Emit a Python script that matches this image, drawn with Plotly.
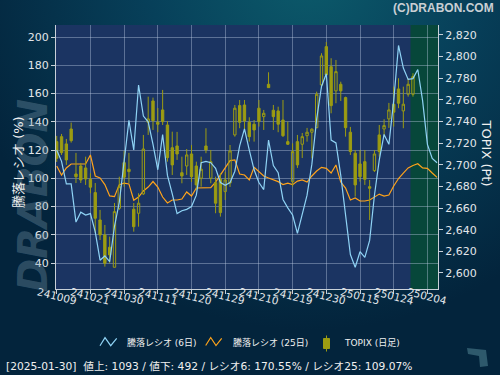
import base64
import plotly.graph_objects as go

# ---------------- data ----------------
dates = ["241009","241010","241011","241015","241016","241017","241018","241021","241022","241023",
         "241024","241025","241028","241029","241030","241031","241101","241105","241106","241107",
         "241108","241111","241112","241113","241114","241115","241118","241119","241120","241121",
         "241122","241125","241126","241127","241128","241129","241202","241203","241204","241205",
         "241206","241209","241210","241211","241212","241213","241216","241217","241218","241219",
         "241220","241223","241224","241225","241226","241227","241230","250106","250107","250108",
         "250109","250110","250114","250115","250116","250117","250120","250121","250122","250123",
         "250124","250127","250128","250129","250130","250131","250203","250204","250205","250206"]

tick_labels = ["241009","241021","241030","241111","241120","241129","241210","241219",
               "241230","250115","250124","250204"]

ratio6 = [120, 112, 96, 96, 69, 76, 74, 75, 62, 42,
          45, 41, 66, 83, 112, 141, 120, 166, 144, 140,
          124, 106, 131, 102, 89, 75, 77, 78, 80, 88,
          111, 112, 111, 107, 97, 95, 97, 105, 123, 135,
          120, 106, 97, 92, 127, 109, 104, 85, 79, 74,
          61, 74, 88, 110, 142, 165, 174, 127, 125, 102,
          76, 46, 37, 48, 44, 56, 88, 113, 131, 124,
          155, 194, 178, 170, 170.55, 177, 155, 124, 114, 111]

ratio25 = [108.7, 102.3, 107.3, 110.1, 110.1, 110.1, 110.1, 116.5, 101.6, 100.2,
           95.5, 87.5, 87, 95.5, 96.6, 96, 84.4, 86.7, 91, 93.8,
           97.7, 93.8, 86.7, 82.5, 84.6, 84.6, 85.3, 90.3, 87.4, 93.1,
           93.1, 93.1, 93.3, 97.3, 102.3, 107.3, 112.5, 113, 103, 102.3,
           98.8, 107.7, 104.4, 101.6, 100.2, 98.8, 97.6, 95.5, 96.6, 95.5,
           98, 98.8, 97.3, 101.6, 105.1, 107.7, 107, 103.7, 109.4, 97.3,
           93.1, 84.6, 86, 83.9, 83.9, 84.6, 86.7, 88.8, 87.4, 88.1,
           94.5, 99.8, 103.7, 107.3, 109.07, 110.3, 107.3, 107, 103.7, 100.6]

topix_open = [2721.4, 2726.0, 2719.3, 2733.1, 2691.5, 2698.9, 2697.1, 2686.6, 2674.3, 2649.0,
              2635.2, 2623.8, 2605.3, 2659.8, 2702.0, 2695.9, 2658.9, 2655.2, 2673.1, 2739.3,
              2759.0, 2739.3, 2750.7, 2736.8, 2715.8, 2717.4, 2692.7, 2698.9, 2710.0, 2698.9,
              2687.6, 2717.4, 2687.6, 2683.5, 2686.6, 2675.2, 2683.2, 2727.6, 2754.7, 2755.3,
              2739.3, 2737.5, 2752.3, 2744.5, 2774.4, 2750.4, 2749.8, 2741.4, 2721.4, 2684.4,
              2721.4, 2719.0, 2726.9, 2730.1, 2734.3, 2773.8, 2809.2, 2790.7, 2768.3, 2774.4,
              2762.1, 2730.1, 2710.7, 2700.8, 2702.9, 2679.8, 2694.6, 2727.6, 2733.1, 2742.4,
              2756.0, 2770.1, 2749.8, 2765.2, 2765.2]
topix_high = [2726.7, 2728.5, 2723.9, 2739.0, 2711.0, 2701.7, 2707.5, 2692.2, 2683.2, 2658.3,
              2644.4, 2633.6, 2664.7, 2689.0, 2712.8, 2711.0, 2664.7, 2673.7, 2727.6, 2763.0,
              2762.1, 2752.5, 2769.2, 2740.5, 2730.6, 2730.4, 2707.5, 2714.6, 2718.3, 2702.9,
              2707.5, 2733.8, 2713.7, 2689.0, 2692.2, 2693.4, 2718.3, 2755.3, 2759.9, 2759.9,
              2743.9, 2741.4, 2759.9, 2750.7, 2785.5, 2755.3, 2753.7, 2759.9, 2739.9, 2719.9,
              2727.6, 2729.4, 2734.1, 2733.8, 2767.6, 2803.1, 2813.5, 2798.5, 2796.9, 2776.8,
              2763.0, 2735.0, 2713.7, 2713.7, 2713.7, 2686.0, 2713.7, 2736.8, 2742.1, 2757.2,
              2772.2, 2780.0, 2772.2, 2780.0, 2784.6]
topix_low = [2702.6, 2709.1, 2699.9, 2720.5, 2683.2, 2683.2, 2681.4, 2673.7, 2637.0, 2630.5,
             2605.9, 2609.0, 2605.3, 2658.3, 2679.8, 2683.2, 2638.2, 2642.8, 2672.1, 2727.6,
             2732.2, 2730.1, 2736.8, 2702.9, 2690.6, 2704.5, 2682.9, 2690.6, 2684.1, 2676.8,
             2679.8, 2710.7, 2682.9, 2655.2, 2652.1, 2667.5, 2679.5, 2726.0, 2733.8, 2732.2,
             2721.4, 2721.4, 2735.3, 2732.2, 2771.3, 2732.2, 2730.1, 2725.7, 2718.3, 2679.8,
             2697.1, 2706.3, 2721.4, 2706.0, 2733.8, 2770.7, 2778.4, 2747.6, 2756.9, 2759.0,
             2726.0, 2709.1, 2670.6, 2684.4, 2681.4, 2649.0, 2693.4, 2707.5, 2726.0, 2734.1,
             2735.3, 2752.3, 2733.8, 2763.0, 2763.0]
topix_close = [2706.0, 2711.2, 2704.5, 2722.3, 2689.0, 2686.0, 2686.9, 2679.3, 2650.6, 2635.2,
               2609.0, 2616.7, 2656.7, 2679.8, 2688.5, 2693.7, 2642.8, 2664.5, 2714.6, 2742.4,
               2740.8, 2737.5, 2739.9, 2706.6, 2699.9, 2710.0, 2689.7, 2709.1, 2689.0, 2681.4,
               2695.9, 2713.7, 2702.9, 2664.5, 2655.8, 2686.0, 2712.8, 2752.3, 2739.3, 2740.5,
               2726.0, 2732.2, 2739.9, 2747.6, 2771.3, 2744.5, 2737.5, 2726.9, 2719.0, 2712.2,
               2699.9, 2726.0, 2730.1, 2732.9, 2765.2, 2800.6, 2783.0, 2754.7, 2786.1, 2768.3,
               2734.3, 2712.2, 2681.4, 2689.0, 2686.6, 2678.3, 2710.0, 2712.2, 2736.2, 2750.7,
               2748.6, 2756.9, 2756.0, 2774.4, 2781.5]

ratio_ticks = [40, 60, 80, 100, 120, 140, 160, 180, 200]
topix_ticks = [2600, 2620, 2640, 2660, 2680, 2700, 2720, 2740, 2760, 2780, 2800, 2820]
highlight_from = "250130"
info_text = "[2025-01-30]  値上: 1093 / 値下: 492 / レシオ6: 170.55% / レシオ25: 109.07%"

# ---------------- layout helpers ----------------
W, H = 500, 375
ML, MR, MT, MB = 56, 62, 25, 86
PW, PH = W - ML - MR, H - MT - MB


def px(x):
    return (x - ML) / PW


def py(y):
    return (H - MB - y) / PH


FONT = "DejaVu Sans, Noto Sans CJK JP, sans-serif"
LBL = "#e2e6ea"
AXC = "#c8d0d8"
GRID = "rgba(190,205,230,0.4)"
OLIVE = "#9c9c12"
BLUE = "#8fd3f5"
ORANGE = "#ffa31a"

idx = list(range(len(dates)))
cidx = idx[:len(topix_close)]
tick_pos = [dates.index(t) for t in tick_labels]
hl_pos = dates.index(highlight_from) - 0.5

svg = f'''<svg xmlns="http://www.w3.org/2000/svg" width="{W}" height="{H}" viewBox="0 0 {W} {H}">
<defs><radialGradient id="g" gradientUnits="userSpaceOnUse" cx="310" cy="-30" r="360">
<stop offset="0" stop-color="#0c5b6b"/><stop offset="0.45" stop-color="#07405a"/>
<stop offset="1" stop-color="#03243c"/></radialGradient></defs>
<rect width="{W}" height="{H}" fill="url(#g)"/>
<path d="M467,348 L486,350 L488,366 L480,367 L479,356 L468,354 Z" fill="#2e596c"/>
</svg>'''
bg_src = "data:image/svg+xml;base64," + base64.b64encode(svg.encode()).decode()

fig = go.Figure()
fig.add_trace(go.Scatter(x=idx, y=ratio25, yaxis="y", mode="lines",
                         line=dict(color=ORANGE, width=1.2), name="騰落レシオ (25日)",
                         showlegend=False, hoverinfo="skip"))
fig.add_trace(go.Candlestick(
    x=cidx, open=topix_open, high=topix_high, low=topix_low, close=topix_close,
    yaxis="y2", name="TOPIX (日足)", whiskerwidth=0,
    increasing=dict(line=dict(color=OLIVE, width=1), fillcolor="rgba(0,0,0,0)"),
    decreasing=dict(line=dict(color=OLIVE, width=1), fillcolor=OLIVE),
    showlegend=False, hoverinfo="skip"))
fig.add_trace(go.Scatter(x=idx, y=ratio6, yaxis="y3", mode="lines",
                         line=dict(color=BLUE, width=1.2), name="騰落レシオ (6日)",
                         showlegend=False, hoverinfo="skip"))

yr = [21.6, 208.5]
fig.update_layout(
    width=W, height=H, autosize=False,
    margin=dict(l=ML, r=MR, t=MT, b=MB, pad=0, autoexpand=False),
    paper_bgcolor="#03243c", plot_bgcolor="rgba(0,0,0,0)",
    font=dict(family=FONT, color=LBL, size=11),
    showlegend=False,
    xaxis=dict(range=[-0.15, 79.2], tickvals=tick_pos, showticklabels=False,
               ticks="outside", ticklen=4, tickcolor=AXC, showgrid=True, gridcolor=GRID,
               gridwidth=1, showline=True, linecolor=AXC, linewidth=1, zeroline=False,
               rangeslider=dict(visible=False), fixedrange=True),
    yaxis=dict(range=yr, tickvals=ratio_ticks, ticks="outside", ticklen=4, tickcolor=AXC,
               tickfont=dict(family=FONT, size=11, color=LBL), showgrid=True, gridcolor=GRID,
               gridwidth=1, showline=True, linecolor=AXC, linewidth=1, zeroline=False,
               fixedrange=True),
    yaxis2=dict(range=[2585.2, 2829.2], tickvals=topix_ticks, tickformat=",d", overlaying="y",
                side="right", ticks="outside", ticklen=4, tickcolor=AXC,
                tickfont=dict(family=FONT, size=11, color=LBL), showgrid=False,
                showline=True, linecolor=AXC, linewidth=1, zeroline=False, fixedrange=True),
    yaxis3=dict(range=yr, overlaying="y", visible=False, fixedrange=True),
)

fig.add_layout_image(dict(source=bg_src, xref="paper", yref="paper", x=px(0), y=py(0),
                          sizex=W / PW, sizey=H / PH, xanchor="left", yanchor="top",
                          sizing="stretch", layer="below"))

shapes = [
    dict(type="rect", xref="paper", yref="paper", x0=0, x1=1, y0=0, y1=1,
         fillcolor="#1b3462", line=dict(width=0), layer="below"),
    dict(type="rect", xref="x", yref="paper", x0=hl_pos, x1=79.2, y0=0, y1=1,
         fillcolor="#07473a", line=dict(width=0), layer="below"),
]


def zig(pts):
    return "M " + " L ".join(f"{px(a):.5f},{py(b):.5f}" for a, b in pts)


shapes.append(dict(type="path", xref="paper", yref="paper",
                   path=zig([(100, 345.7), (105, 337.7), (110.7, 345.7), (116.7, 338.3)]),
                   line=dict(color=BLUE, width=1.2)))
shapes.append(dict(type="path", xref="paper", yref="paper",
                   path=zig([(205.7, 345.5), (210.7, 337.5), (216, 345.5), (221.7, 338.3)]),
                   line=dict(color=ORANGE, width=1.2)))
shapes.append(dict(type="line", xref="paper", yref="paper", x0=px(326.5), x1=px(326.5),
                   y0=py(335.5), y1=py(351.5), line=dict(color=OLIVE, width=1)))
shapes.append(dict(type="rect", xref="paper", yref="paper", x0=px(323.5), x1=px(329.5),
                   y0=py(338.5), y1=py(348.5), fillcolor=OLIVE, line=dict(color=OLIVE, width=1)))
fig.update_layout(shapes=shapes)


def note(text, x, y, size, color="#f0f0f0", angle=0, xanchor="center", family=FONT):
    return dict(text=text, x=px(x), y=py(y), xref="paper", yref="paper", showarrow=False,
                textangle=angle, xanchor=xanchor, yanchor="middle",
                font=dict(family=family, size=size, color=color))


ann = []
for pos, lab in zip(tick_pos, tick_labels):
    ann.append(dict(text=lab, x=pos, xref="x", y=py(296), yref="paper", showarrow=False,
                    textangle=14, xanchor="center", yanchor="middle",
                    font=dict(family=FONT, size=10.5, color=LBL)))
ann += [
    note("<b><i>DRABON</i></b>", 33, 196, 40, color="rgba(120,150,170,0.36)", angle=-90),
    note("騰落レシオ (%)", 18, 162, 13, angle=-90),
    note("TOPIX (Pt)", 486.5, 153, 13, angle=90),
    note("<b>(C)DRABON.COM</b>", 496, 8, 12, color="#c9cfd4", xanchor="right",
         family="Liberation Sans, Arial, sans-serif"),
    note("騰落レシオ (6日)", 125, 342.5, 9, xanchor="left"),
    note("騰落レシオ (25日)", 231, 342.5, 9, xanchor="left"),
    note("TOPIX (日足)", 342, 342.5, 9, xanchor="left"),
    note(info_text, 4, 366.5, 10.7, xanchor="left"),
]
fig.update_layout(annotations=ann)

fig.write_html("out.html", config=dict(displayModeBar=False, staticPlot=True),
               post_script="document.body.style.margin='0px';")
